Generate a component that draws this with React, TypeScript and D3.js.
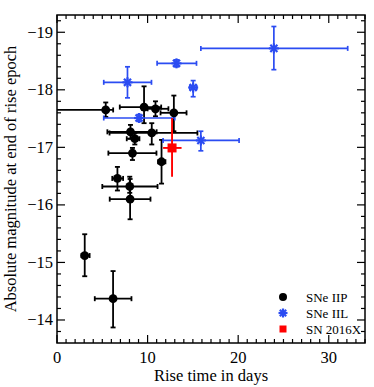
import React from 'react';
import * as d3 from 'd3';

// SNe IIP: rise time, magnitude, x error range, y error range
const iipRise = [5.38, 9.61, 10.87, 12.9, 8.11, 10.46, 8.59, 8.33, 11.54, 6.67, 8.03, 8.07, 3.06, 6.19];
const iipMag = [-17.65, -17.7, -17.67, -17.6, -17.27, -17.25, -17.15, -16.9, -16.75, -16.46, -16.32, -16.1, -15.12, -14.37];
const iipRiseLo = [-2, 6.93, 10.0, 11.43, 5.56, 5.8, 7.7, 5.67, 11.16, 6.1, 5.0, 5.82, 2.7, 4.17];
const iipRiseHi = [6.2, 11.5, 12.3, 14.3, 11.0, 15.5, 9.1, 10.98, 11.97, 7.3, 11.1, 10.32, 3.6, 8.22];
const iipMagLo = [-17.78, -18.06, -17.8, -17.9, -17.39, -17.42, -17.25, -16.99, -17.13, -16.66, -16.49, -16.45, -15.49, -14.85];
const iipMagHi = [-17.53, -17.42, -17.54, -17.28, -17.15, -17.05, -17.05, -16.78, -16.37, -16.25, -16.21, -15.75, -14.76, -13.87];

// SNe IIL
const iilRise = [7.78, 13.19, 15.03, 23.94, 9.06, 15.88];
const iilMag = [-18.13, -18.46, -18.04, -18.72, -17.51, -17.12];
const iilRiseLo = [5.16, 11.05, 14.66, 15.88, 5.16, 11.71];
const iilRiseHi = [10.43, 15.4, 15.43, 32.09, 13.0, 20.1];
const iilMagLo = [-18.4, -18.52, -18.16, -19.1, -17.57, -17.28];
const iilMagHi = [-17.86, -18.4, -17.88, -18.35, -17.45, -16.94];

// SN 2016X
const xRise = [12.7];
const xMag = [-16.99];
const xRiseLo = [11.71];
const xRiseHi = [13.75];
const xMagLo = [-17.51];
const xMagHi = [-16.49];

const xTicks = [0, 10, 20, 30];
const yTicks = [-19, -18, -17, -16, -15, -14];
const legendNames = ['SNe IIP', 'SNe IIL', 'SN 2016X'];

const W = 374;
const H = 387;
const m = { left: 57, right: 9, top: 15, bottom: 44 };

const BLACK = '#000000';
const BLUE = '#2b4cf2';
const RED = '#ff0000';

function Star({ cx, cy, r, color }: { cx: number; cy: number; r: number; color: string }) {
  const arms = [0, 45, 90, 135].map((a) => {
    const rad = (a * Math.PI) / 180;
    return (
      <line
        key={a}
        x1={cx - r * Math.cos(rad)}
        y1={cy - r * Math.sin(rad)}
        x2={cx + r * Math.cos(rad)}
        y2={cy + r * Math.sin(rad)}
        stroke={color}
        strokeWidth={2.2}
      />
    );
  });
  return <g>{arms}</g>;
}

export default function App() {
  const x = d3.scaleLinear().domain([0, 34]).range([m.left, W - m.right]);
  const y = d3.scaleLinear().domain([-19.3, -13.6]).range([m.top, H - m.bottom]);
  const x0 = m.left, x1 = W - m.right, y0 = m.top, y1 = H - m.bottom;

  const errBars = (
    rise: number[], mag: number[], rlo: number[], rhi: number[], mlo: number[], mhi: number[],
    color: string, caps: boolean, sw: number
  ) =>
    rise.map((r, i) => {
      const cx = x(r), cy = y(mag[i]);
      const c = 2.5;
      return (
        <g key={i} stroke={color} strokeWidth={sw}>
          <line x1={x(rlo[i])} x2={x(rhi[i])} y1={cy} y2={cy} />
          <line x1={cx} x2={cx} y1={y(mlo[i])} y2={y(mhi[i])} />
          {caps && (
            <>
              <line x1={x(rlo[i])} x2={x(rlo[i])} y1={cy - c} y2={cy + c} />
              <line x1={x(rhi[i])} x2={x(rhi[i])} y1={cy - c} y2={cy + c} />
              <line x1={cx - c} x2={cx + c} y1={y(mlo[i])} y2={y(mlo[i])} />
              <line x1={cx - c} x2={cx + c} y1={y(mhi[i])} y2={y(mhi[i])} />
            </>
          )}
        </g>
      );
    });

  const xMinor = d3.range(0, 35, 1);
  const yMinor = d3.range(-19.2, -13.6, 0.2);

  const font = '"Liberation Serif", "DejaVu Serif", serif';
  const legendY = [297, 313, 329];
  const legX = 283;

  return (
    <svg width={W} height={H} style={{ position: 'absolute', left: 0, top: 0, background: '#fff' }} fontFamily={font}>
      <defs>
        <clipPath id="plot">
          <rect x={x0} y={y0} width={x1 - x0} height={y1 - y0} />
        </clipPath>
      </defs>
      <g clipPath="url(#plot)">
        {errBars(iipRise, iipMag, iipRiseLo, iipRiseHi, iipMagLo, iipMagHi, BLACK, true, 1.8)}
        {errBars(iilRise, iilMag, iilRiseLo, iilRiseHi, iilMagLo, iilMagHi, BLUE, true, 1.7)}
        {errBars(xRise, xMag, xRiseLo, xRiseHi, xMagLo, xMagHi, RED, false, 1.9)}
        {iipRise.map((r, i) => (
          <circle key={i} cx={x(r)} cy={y(iipMag[i])} r={4.4} fill={BLACK} />
        ))}
        {iilRise.map((r, i) => (
          <Star key={i} cx={x(r)} cy={y(iilMag[i])} r={5} color={BLUE} />
        ))}
        {xRise.map((r, i) => (
          <rect key={i} x={x(r) - 4.5} y={y(xMag[i]) - 4.5} width={9} height={9} fill={RED} />
        ))}
      </g>

      {/* ticks on all four sides, pointing in */}
      <g stroke="#000" strokeWidth={1.2}>
        {xMinor.map((t) => {
          const len = xTicks.includes(t) ? 8 : 4;
          return (
            <g key={t}>
              <line x1={x(t)} x2={x(t)} y1={y1} y2={y1 - len} />
              <line x1={x(t)} x2={x(t)} y1={y0} y2={y0 + len} />
            </g>
          );
        })}
        {yMinor.map((t) => {
          const major = yTicks.some((v) => Math.abs(v - t) < 1e-6);
          const len = major ? 8 : 4;
          return (
            <g key={t.toFixed(1)}>
              <line x1={x0} x2={x0 + len} y1={y(t)} y2={y(t)} />
              <line x1={x1} x2={x1 - len} y1={y(t)} y2={y(t)} />
            </g>
          );
        })}
      </g>
      <rect x={x0} y={y0} width={x1 - x0} height={y1 - y0} fill="none" stroke="#000" strokeWidth={1.5} />

      {xTicks.map((t) => (
        <text key={t} x={x(t)} y={y1 + 20} textAnchor="middle" fontSize={16.5}>{t}</text>
      ))}
      {yTicks.map((t) => (
        <text key={t} x={x0 - 4} y={y(t) + 5.5} textAnchor="end" fontSize={16.5}>
          {'\u2212' + Math.abs(t)}
        </text>
      ))}
      <text x={(x0 + x1) / 2} y={H - 6} textAnchor="middle" fontSize={16.5}>Rise time in days</text>
      <text
        transform={`translate(16, ${(y0 + y1) / 2}) rotate(-90)`}
        textAnchor="middle"
        fontSize={16.5}
      >
        Absolute magnitude at end of rise epoch
      </text>

      {/* legend */}
      <circle cx={legX} cy={legendY[0]} r={4} fill={BLACK} />
      <Star cx={legX} cy={legendY[1]} r={4.5} color={BLUE} />
      <rect x={legX - 3.5} y={legendY[2] - 3.5} width={7} height={7} fill={RED} />
      {legendNames.map((n, i) => (
        <text key={n} x={306} y={legendY[i] + 4.5} fontSize={13}>{n}</text>
      ))}
    </svg>
  );
}
